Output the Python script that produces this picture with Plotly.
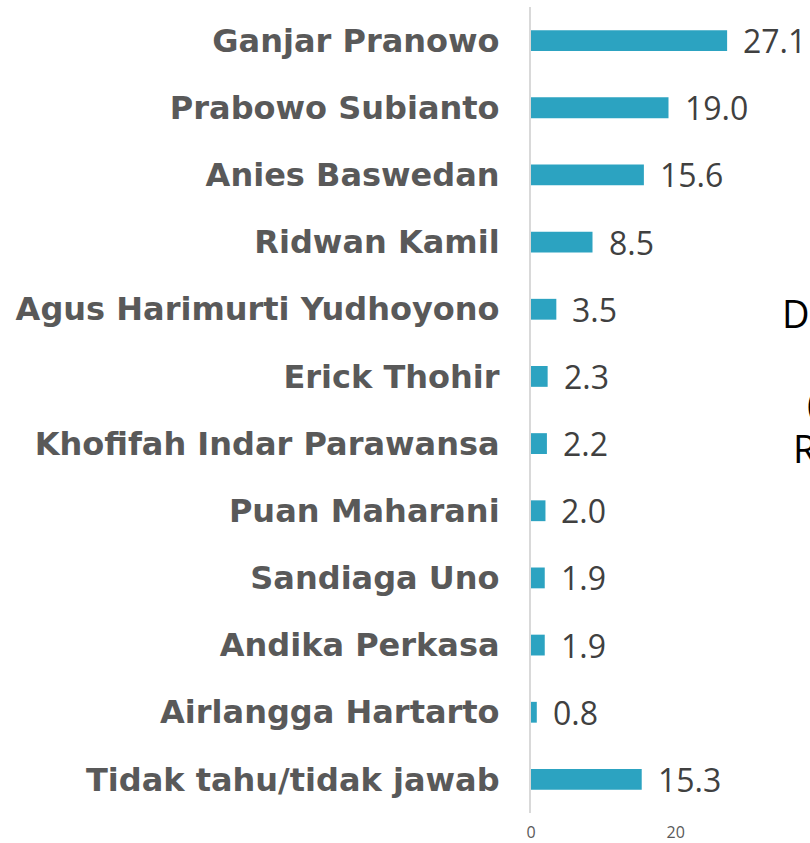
import plotly.graph_objects as go

categories = ["Ganjar Pranowo", "Prabowo Subianto", "Anies Baswedan", "Ridwan Kamil",
              "Agus Harimurti Yudhoyono", "Erick Thohir", "Khofifah Indar Parawansa",
              "Puan Maharani", "Sandiaga Uno", "Andika Perkasa", "Airlangga Hartarto",
              "Tidak tahu/tidak jawab"]
values = [27.1, 19.0, 15.6, 8.5, 3.5, 2.3, 2.2, 2.0, 1.9, 1.9, 0.8, 15.3]
value_labels = [f"{v:.1f}" for v in values]
tick_vals = [0, 20]
side_lines = ["Dukungan", "(dalam %)", "Responden"]

W, H = 810, 843
ML, MR, MT, MB = 531, 4, 7, 30

fig = go.Figure(go.Bar(
    y=categories, x=values, orientation="h",
    marker=dict(color="#2CA3C1", line=dict(width=0)),
    width=0.31,
    hoverinfo="x+y",
))

for c, v, t in zip(categories, values, value_labels):
    fig.add_annotation(x=v, y=c, xref="x", yref="y", text=t, showarrow=False,
                       xanchor="left", yanchor="middle", xshift=14,
                       font=dict(family="Open Sans", size=32, color="#404040"))

fig.update_layout(
    width=W, height=H,
    margin=dict(l=ML, r=MR, t=MT, b=MB, autoexpand=False),
    plot_bgcolor="white", paper_bgcolor="white",
    showlegend=False,
    xaxis=dict(range=[0, 38], tickvals=tick_vals, showgrid=False, zeroline=False,
               showline=False, ticks="", ticklabelstandoff=8, automargin=False,
               tickfont=dict(family="Open Sans", size=16, color="#595959")),
    yaxis=dict(autorange="reversed", showgrid=False, zeroline=False,
               showline=True, linecolor="#D9D9D9", linewidth=2, ticks="",
               ticklabelstandoff=23, automargin=False,
               tickfont=dict(family="DejaVu Sans", size=32, color="#595959", weight="bold")),
)

# side text block (partially outside the visible canvas, as in the reference)
ys = [313, 403, 448]
xs = [780, 805, 791]
pw = W - ML - MR
ph = H - MT - MB
for t, px, py in zip(side_lines, xs, ys):
    fig.add_annotation(text=t, xref="paper", yref="paper",
                       x=(px - ML) / pw, y=1 - (py - MT) / ph,
                       xanchor="left", yanchor="middle", showarrow=False,
                       font=dict(family="Open Sans", size=38, color="#000000"))

fig.write_html("out.html", config={"displayModeBar": False},
               post_script="document.body.style.margin='0';")
